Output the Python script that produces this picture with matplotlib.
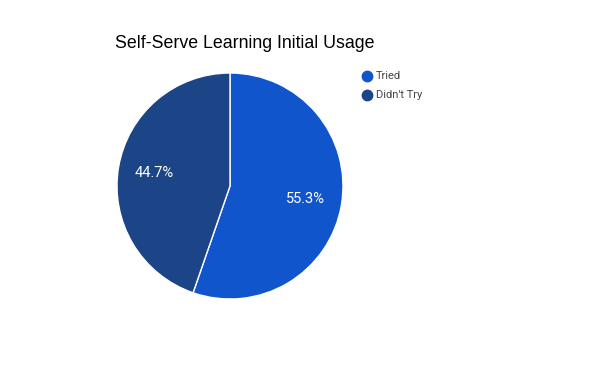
import matplotlib
matplotlib.use("Agg")
import matplotlib.pyplot as plt
from matplotlib.lines import Line2D

categories = ["Tried", "Didn't Try"]
values = [55.3, 44.7]
colors = ["#1155cc", "#1c4587"]
title = "Self-Serve Learning Initial Usage"

W, H = 600, 371
fig = plt.figure(figsize=(6, 3.71), dpi=100)
cx, cy, r = 230, 186, 113
ax = fig.add_axes([(cx - r) / W, (H - cy - r) / H, 2 * r / W, 2 * r / H])
wedges, texts, autotexts = ax.pie(
    values, colors=colors, startangle=90, counterclock=False,
    autopct="%.1f%%", pctdistance=0.68, radius=1,
    wedgeprops=dict(edgecolor="white", linewidth=1),
    textprops=dict(color="white", fontsize=10.5, family="Roboto"))
ax.set_xlim(-1, 1)
ax.set_ylim(-1, 1)
ax.set_aspect("equal")
ax.axis("off")

fig.text(115 / W, 1 - 44 / H, title, fontsize=12.8, family="Liberation Sans",
         color="black", ha="left", va="center")

for i, (c, col) in enumerate(zip(categories, colors)):
    y = 76 + i * 19
    fig.add_artist(Line2D([367 / W], [1 - y / H], marker="o", markersize=7.5,
                          color=col, linestyle="none", transform=fig.transFigure))
    fig.text(376 / W, 1 - y / H, c, fontsize=8, family="Roboto", color="#444444",
             ha="left", va="center")

fig.savefig("out.png", dpi=100, facecolor="white")
